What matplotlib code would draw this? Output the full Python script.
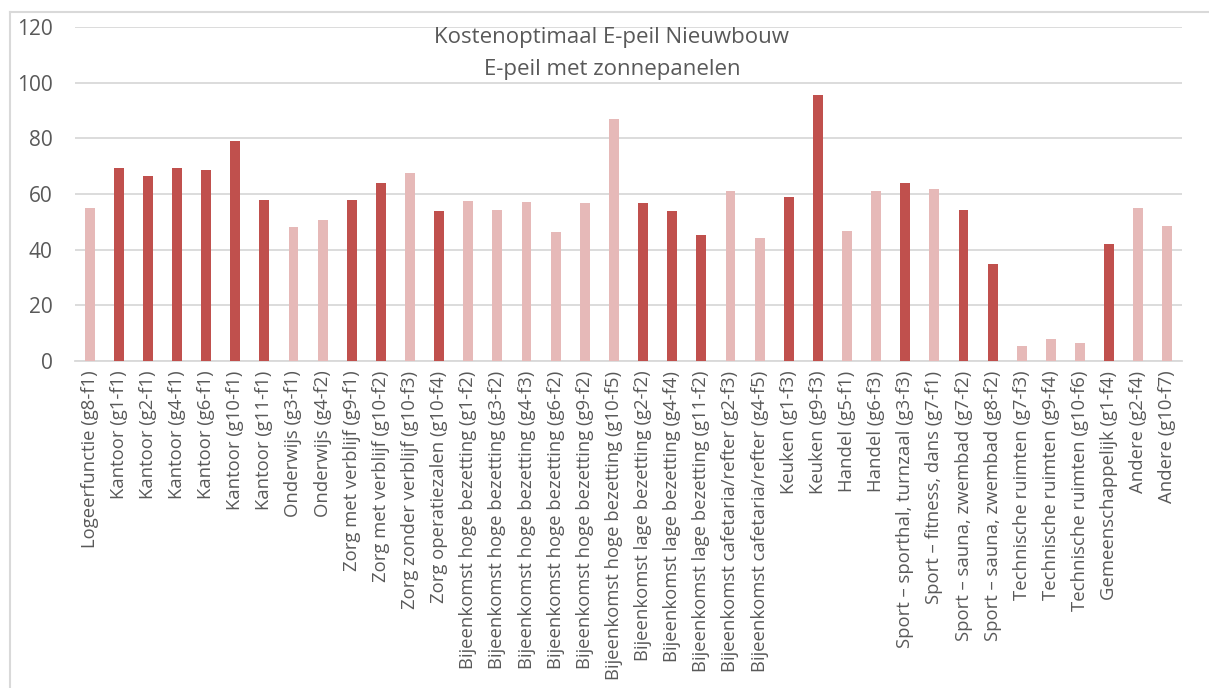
import matplotlib
matplotlib.use("Agg")
import matplotlib.pyplot as plt
from matplotlib.lines import Line2D

categories = [
    "Logeerfunctie (g8-f1)", "Kantoor (g1-f1)", "Kantoor (g2-f1)", "Kantoor (g4-f1)",
    "Kantoor (g6-f1)", "Kantoor (g10-f1)", "Kantoor (g11-f1)", "Onderwijs (g3-f1)",
    "Onderwijs (g4-f2)", "Zorg met verblijf (g9-f1)", "Zorg met verblijf (g10-f2)",
    "Zorg zonder verblijf (g10-f3)", "Zorg operatiezalen (g10-f4)",
    "Bijeenkomst hoge bezetting (g1-f2)", "Bijeenkomst hoge bezetting (g3-f2)",
    "Bijeenkomst hoge bezetting (g4-f3)", "Bijeenkomst hoge bezetting (g6-f2)",
    "Bijeenkomst hoge bezetting (g9-f2)", "Bijeenkomst hoge bezetting (g10-f5)",
    "Bijeenkomst lage bezetting (g2-f2)", "Bijeenkomst lage bezetting (g4-f4)",
    "Bijeenkomst lage bezetting (g11-f2)", "Bijeenkomst cafetaria/refter (g2-f3)",
    "Bijeenkomst cafetaria/refter (g4-f5)", "Keuken (g1-f3)", "Keuken (g9-f3)",
    "Handel (g5-f1)", "Handel (g6-f3)", "Sport \u2013 sporthal, turnzaal (g3-f3)",
    "Sport \u2013 fitness, dans (g7-f1)", "Sport \u2013 sauna, zwembad (g7-f2)",
    "Sport \u2013 sauna, zwembad (g8-f2)", "Technische ruimten (g7-f3)",
    "Technische ruimten (g9-f4)", "Technische ruimten (g10-f6)",
    "Gemeenschappelijk (g1-f4)", "Andere (g2-f4)", "Andere (g10-f7)",
]
values = [55.0, 69.3, 66.6, 69.5, 68.7, 79.2, 57.7, 48.0, 50.8, 58.0, 64.1, 67.5,
          53.8, 57.4, 54.2, 57.1, 46.3, 56.7, 86.8, 56.7, 53.8, 45.2, 61.0, 44.1,
          58.9, 95.5, 46.7, 61.0, 64.1, 61.7, 54.4, 34.8, 5.4, 7.9, 6.5, 41.9,
          54.9, 48.4]
# 1 = dark red, 0 = light pink
highlight = [0, 1, 1, 1, 1, 1, 1, 0, 0, 1, 1, 0, 1, 0, 0, 0, 0, 0, 0, 1, 1, 1,
             0, 0, 1, 1, 0, 0, 1, 0, 1, 1, 0, 0, 0, 1, 0, 0]
yticks = [0, 20, 40, 60, 80, 100, 120]
title_lines = ["Kostenoptimaal E-peil Nieuwbouw", "E-peil met zonnepanelen"]

DARK = "#C0504D"
LIGHT = "#E6B9B8"
GRID = "#D9D9D9"
TEXT = "#595959"
FONT = ["Open Sans", "DejaVu Sans"]

W, H = 1209, 688
fig = plt.figure(figsize=(W / 100, H / 100), dpi=100)
fig.patch.set_facecolor("white")

# plot area in pixel coordinates
left, right, top, bottom = 75, 1182, 27, 361
ax = fig.add_axes([left / W, 1 - bottom / H, (right - left) / W, (bottom - top) / H])

n = len(categories)
x = list(range(n))
colors = [DARK if h else LIGHT for h in highlight]
ax.bar(x, values, width=0.34, color=colors, zorder=3)
ax.set_xlim(-0.5, n - 0.5)
ax.set_ylim(0, 120)
ax.set_yticks(yticks)
ax.set_yticklabels([str(t) for t in yticks], fontsize=15, color=TEXT, family=FONT)
ax.set_xticks(x)
ax.set_xticklabels(categories, rotation=90, fontsize=13.3, color=TEXT, family=FONT,
                   ha="center", va="top")
ax.tick_params(axis="x", length=0, pad=7)
ax.tick_params(axis="y", length=0, pad=16)
ax.yaxis.grid(True, color=GRID, linewidth=1.3, zorder=0)
for s in ["top", "right", "left"]:
    ax.spines[s].set_visible(False)
ax.spines["bottom"].set_color(GRID)
ax.spines["bottom"].set_linewidth(1.3)

fig.text(612 / W, 1 - 38 / H, title_lines[0], ha="center", va="center",
         fontsize=16, color=TEXT, family=FONT)
fig.text(612 / W, 1 - 69 / H, title_lines[1], ha="center", va="center",
         fontsize=16, color=TEXT, family=FONT)

# outer chart border (left and top edges visible)
fig.add_artist(Line2D([10 / W, 10 / W], [0, 1 - 12 / H], transform=fig.transFigure,
                      color=GRID, linewidth=1.5))
fig.add_artist(Line2D([10 / W, 1], [1 - 12 / H, 1 - 12 / H], transform=fig.transFigure,
                      color=GRID, linewidth=1.5))

fig.savefig("out.png", dpi=100)
